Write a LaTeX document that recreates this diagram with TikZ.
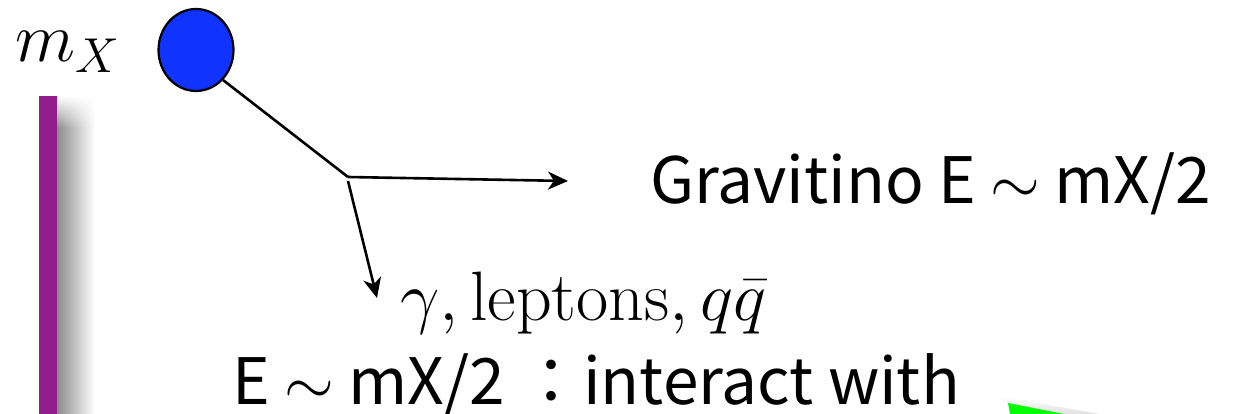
\RequirePackage{fix-cm}
\documentclass[tikz,border=0pt]{standalone}
\usepackage{fontspec}
\newfontfamily\jp{Noto Sans CJK JP}
\usetikzlibrary{arrows.meta,fadings,shapes.geometric}
\definecolor{dotblue}{HTML}{1033FF}
\definecolor{barpurple}{HTML}{911E8C}
\definecolor{brightgreen}{HTML}{00FF00}
\tikzfading[name=fadetop,top color=transparent!100,bottom color=transparent!0]
\begin{document}
\begin{tikzpicture}[x=1pt,y=-1pt,
  line/.style={line width=2.6pt},
  conn/.style={line width=2.6pt,-{Stealth[length=20pt,width=18pt,inset=6pt]}},
  sanslbl/.style={inner sep=0pt,anchor=base west,text height=48pt,text depth=14pt,font=\jp\fontsize{64}{70}\selectfont},
  mathlbl/.style={inner sep=0pt,anchor=base west,text height=50pt,text depth=12pt,font=\fontsize{70}{78}\selectfont},
]
\path[use as bounding box] (0,0) rectangle (1238,414);
\fill[white] (0,0) rectangle (1238,414);
% purple bar with shadow
\shade[left color=black!45,right color=white] (57,128) rectangle (95,414);
\shade[left color=black!45,right color=white,path fading=fadetop] (57,96) rectangle (95,128);
\fill[barpurple] (39,96) rectangle (57,414);
% green shape with faint shadow
\shade[top color=white,bottom color=black!12] (995,396) -- (1100,414) -- (1064,414) -- (1008,403) -- cycle;
\fill[brightgreen] (1008,403) -- (1064,414) -- (1010,414) -- cycle;
% particle
\node[ellipse,draw,line width=2.2pt,fill=dotblue,minimum width=75pt,minimum height=82pt,inner sep=0pt] (X) at (196,50) {};
\node[inner sep=0pt,anchor=base west,font=\fontsize{70}{80}\selectfont] (mx) at (15,62) {$m_X$};
\coordinate (J) at (348,177);
\coordinate (G) at (568,181);
\coordinate (D) at (377,298);
\draw[line] (X.-48) -- (J);
\draw[conn] (J) -- (G);
\draw[conn] ([yshift=-4pt]J) -- (D);
\node[sanslbl] (grav) at (650,203) {Gravitino E $\sim$ mX/2};
\node[mathlbl] (prod) at (400,320) {$\gamma, \mathrm{leptons}, q\bar{q}$};
\node[sanslbl,text depth=0pt] (inter) at (232,404) {E $\sim$ mX/2 ：interact with};
\end{tikzpicture}
\end{document}
